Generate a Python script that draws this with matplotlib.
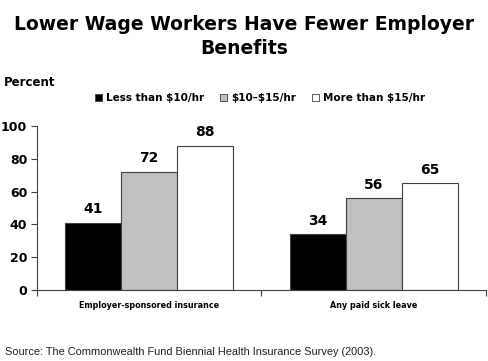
import matplotlib
matplotlib.use("Agg")
import matplotlib.pyplot as plt
import numpy as np
from matplotlib.patches import Patch

categories = ["Employer-sponsored insurance", "Any paid sick leave"]
series_names = ["Less than \\$10/hr", "\\$10\u2013\\$15/hr", "More than \\$15/hr"]
low = [41, 34]
mid = [72, 56]
high = [88, 65]
series_values = [low, mid, high]
colors = ["#000000", "#C0C0C0", "#FFFFFF"]
yticks = [0, 20, 40, 60, 80, 100]

plt.rcParams['font.family'] = ['DejaVu Sans']
BOLD = {"family": "DejaVu Sans", "weight": "bold"}

fig = plt.figure(figsize=(4.89, 3.61), dpi=100)
ax = fig.add_axes([37/489, 1-290/361, (486-37)/489, (290-126)/361])

x = np.arange(len(categories))
w = 0.25
for i, (vals, c) in enumerate(zip(series_values, colors)):
    pos = x + (i - 1) * w
    ax.bar(pos, vals, width=w, color=c, edgecolor="#404040", linewidth=0.8)
    for p, v in zip(pos, vals):
        ax.text(p, v + 4, str(v), ha="center", va="bottom", fontsize=10, **BOLD)

ax.set_xlim(-0.5, 1.5)
ax.set_ylim(0, 100)
ax.set_yticks(yticks)
ax.set_yticklabels([str(t) for t in yticks], fontsize=9, **BOLD)
ax.set_xticks([-0.5, 0.5, 1.5])
ax.set_xticklabels([])
ax.set_xticks(x, minor=True)
ax.set_xticklabels(categories, minor=True, fontsize=5.8, **BOLD)
ax.tick_params(axis="x", which="minor", length=0, pad=8)
ax.tick_params(axis="x", which="major", length=4, color="#404040")
ax.tick_params(axis="y", length=4, color="#404040", pad=3)
for s in ["top", "right"]:
    ax.spines[s].set_visible(False)
for s in ["left", "bottom"]:
    ax.spines[s].set_color("#404040")
    ax.spines[s].set_linewidth(0.8)

fig.text(0.5, 1-24/361, "Lower Wage Workers Have Fewer Employer", ha="center", va="center",
         fontsize=13.5, **BOLD)
fig.text(0.5, 1-48.5/361, "Benefits", ha="center", va="center", fontsize=13.5, **BOLD)
fig.text(4/489, 1-83/361, "Percent", ha="left", va="center", fontsize=8.5, **BOLD)

handles = [Patch(facecolor=c, edgecolor="#404040", linewidth=0.6) for c in colors]
fig.legend(handles, series_names, loc="center", bbox_to_anchor=(260/489, 1-98/361), ncol=3,
           frameon=False, prop={"family": "DejaVu Sans", "weight": "bold", "size": 7.5},
           handlelength=0.7, handleheight=0.7, handletextpad=0.4, columnspacing=1.5)

fig.text(5/489, 1-352/361, "Source: The Commonwealth Fund Biennial Health Insurance Survey (2003).",
         ha="left", va="center", fontsize=7.9, family="Liberation Sans", color="#202020")

fig.savefig("out.png", dpi=100)
